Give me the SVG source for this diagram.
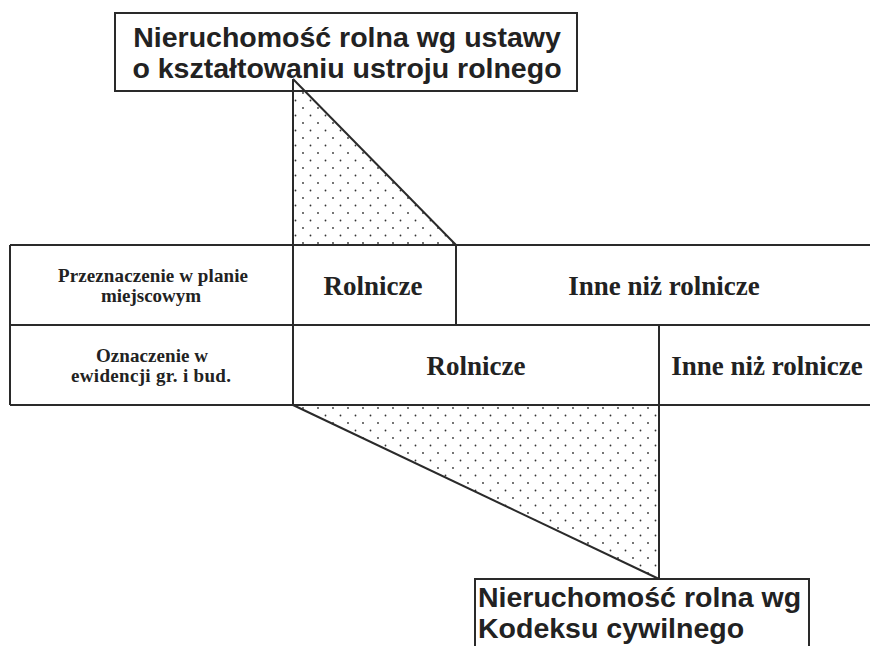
<svg xmlns="http://www.w3.org/2000/svg" width="870" height="646" viewBox="0 0 870 646">
  <defs>
    <pattern id="dots" x="0" y="0" width="15" height="15" patternUnits="userSpaceOnUse">
      <circle cx="3" cy="3" r="0.9" fill="#333"/>
      <circle cx="10.5" cy="10.5" r="0.9" fill="#333"/>
    </pattern>
    <style>
      .line { stroke: #2a2a2a; stroke-width: 2; fill: none; }
      .box { stroke: #2a2a2a; stroke-width: 2; fill: #fff; }
      .sans { font-family: "Liberation Sans", Arial, sans-serif; font-weight: bold; font-size: 28.5px; fill: #222; }
      .serif { font-family: "Liberation Serif", "Times New Roman", serif; font-weight: bold; fill: #222; }
      .small { font-size: 19px; }
      .big { font-size: 27px; }
    </style>
  </defs>
  <rect width="870" height="646" fill="#fff"/>

  <g id="triangle-top">
    <polygon points="293,91 293,245 456,245 305,91" fill="url(#dots)"/>
  </g>
  <g id="triangle-bottom">
    <polygon points="293,405 659,405 659,579" fill="url(#dots)"/>
  </g>

  <g id="box-top">
    <rect class="box" x="115" y="13" width="462" height="78"/>
    <text class="sans" x="347" y="47" text-anchor="middle">Nieruchomość rolna wg ustawy</text>
    <text class="sans" x="347" y="78" text-anchor="middle">o kształtowaniu ustroju rolnego</text>
  </g>

  <g id="box-bottom">
    <rect class="box" x="475" y="579" width="334" height="100"/>
    <text class="sans" x="478" y="607">Nieruchomość rolna wg</text>
    <text class="sans" x="478" y="638">Kodeksu cywilnego</text>
  </g>

  <g id="connectors">
    <polyline class="line" points="293,79 456,245"/>
    <line class="line" x1="293" y1="79" x2="293" y2="405"/>
    <polyline class="line" points="293,405 659,579"/>
    <line class="line" x1="659" y1="325" x2="659" y2="579"/>
  </g>

  <g id="table">
    <line class="line" x1="10" y1="245" x2="870" y2="245"/>
    <line class="line" x1="10" y1="325" x2="870" y2="325"/>
    <line class="line" x1="10" y1="405" x2="870" y2="405"/>
    <line class="line" x1="10" y1="245" x2="10" y2="405"/>
    <line class="line" x1="456" y1="245" x2="456" y2="325"/>
  </g>

  <g id="row-label-1">
    <text class="serif small" x="153" y="282" text-anchor="middle" textLength="190" lengthAdjust="spacing">Przeznaczenie w planie</text>
    <text class="serif small" x="151" y="302" text-anchor="middle">miejscowym</text>
  </g>
  <g id="row-label-2">
    <text class="serif small" x="152" y="362" text-anchor="middle" textLength="112" lengthAdjust="spacing">Oznaczenie w</text>
    <text class="serif small" x="151" y="382" text-anchor="middle" textLength="160" lengthAdjust="spacing">ewidencji gr. i bud.</text>
  </g>
  <g id="cell-r1-rolnicze">
    <text class="serif big" x="373" y="295" text-anchor="middle">Rolnicze</text>
  </g>
  <g id="cell-r1-inne">
    <text class="serif big" x="664" y="295" text-anchor="middle">Inne niż rolnicze</text>
  </g>
  <g id="cell-r2-rolnicze">
    <text class="serif big" x="476" y="375" text-anchor="middle">Rolnicze</text>
  </g>
  <g id="cell-r2-inne">
    <text class="serif big" x="767" y="375" text-anchor="middle">Inne niż rolnicze</text>
  </g>
</svg>
